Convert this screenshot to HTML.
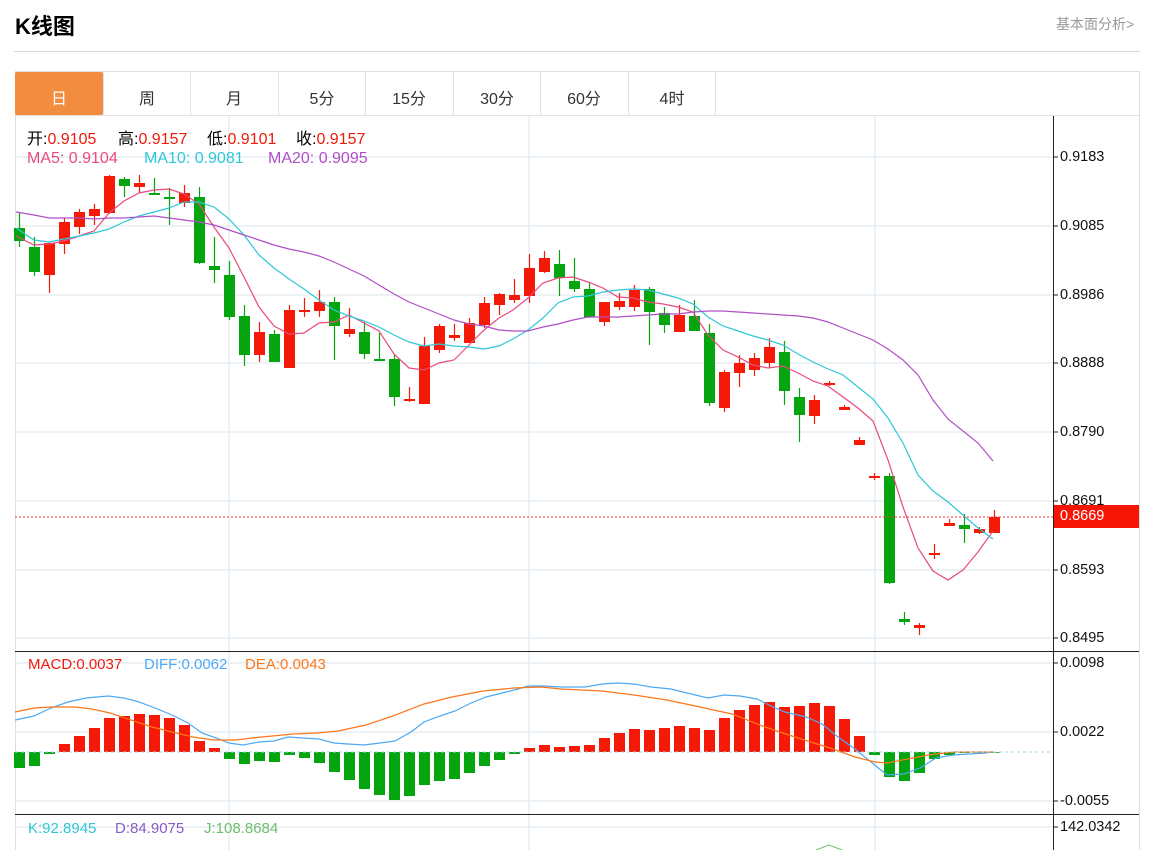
<!DOCTYPE html>
<html><head><meta charset="utf-8"><style>
body{margin:0;width:1160px;height:850px;background:#fff;overflow:hidden;font-family:"Liberation Sans","Noto Sans CJK SC",sans-serif;position:relative}
.t{position:absolute;white-space:nowrap}
</style></head><body>
<div class="t" style="left:15px;top:9px;font-size:22px;font-weight:bold;color:#000">K线图</div>
<div class="t" style="left:1056px;top:14px;font-size:14px;color:#999">基本面分析&gt;</div>
<div style="position:absolute;left:14px;top:51px;width:1126px;height:1px;background:#d6d6d6"></div>
<svg width="1160" height="850" style="position:absolute;left:0;top:0" id="s">
<rect x="15.5" y="71.5" width="1124" height="790" fill="none" stroke="#dedede"/>
<rect x="15" y="72" width="88" height="43" fill="#F28C3F" rx="2"/>
<g stroke="#e2e2e2"><line x1="103.5" y1="72" x2="103.5" y2="115"/><line x1="190.5" y1="72" x2="190.5" y2="115"/><line x1="278.5" y1="72" x2="278.5" y2="115"/><line x1="365.5" y1="72" x2="365.5" y2="115"/><line x1="453.5" y1="72" x2="453.5" y2="115"/><line x1="540.5" y1="72" x2="540.5" y2="115"/><line x1="628.5" y1="72" x2="628.5" y2="115"/><line x1="715.5" y1="72" x2="715.5" y2="115"/><line x1="15" y1="115.5" x2="1139" y2="115.5"/></g>
<g stroke="#e6edf3" stroke-width="1.5">
<line x1="15" y1="157" x2="1053" y2="157"/><line x1="15" y1="226" x2="1053" y2="226"/><line x1="15" y1="295" x2="1053" y2="295"/><line x1="15" y1="363" x2="1053" y2="363"/><line x1="15" y1="432" x2="1053" y2="432"/><line x1="15" y1="501" x2="1053" y2="501"/><line x1="15" y1="570" x2="1053" y2="570"/><line x1="15" y1="638" x2="1053" y2="638"/>
<line x1="15" y1="663" x2="1053" y2="663"/><line x1="15" y1="732" x2="1053" y2="732"/><line x1="15" y1="801" x2="1053" y2="801"/><line x1="15" y1="827" x2="1053" y2="827"/>
<line x1="229" y1="116" x2="229" y2="850"/><line x1="529" y1="116" x2="529" y2="850"/><line x1="875" y1="116" x2="875" y2="850"/>
</g>
<g id="c"></g>
<line x1="15" y1="517" x2="1053" y2="517" stroke="#f33" stroke-dasharray="2,2"/>
<line x1="15" y1="752" x2="1053" y2="752" stroke="#9fd3ee" stroke-dasharray="3,3"/>
<g stroke="#222"><line x1="15" y1="651.5" x2="1139" y2="651.5"/><line x1="15" y1="814.5" x2="1139" y2="814.5"/><line x1="1053.5" y1="116" x2="1053.5" y2="850"/>
<line x1="1053" y1="157" x2="1058" y2="157"/><line x1="1053" y1="226" x2="1058" y2="226"/><line x1="1053" y1="295" x2="1058" y2="295"/><line x1="1053" y1="363" x2="1058" y2="363"/><line x1="1053" y1="432" x2="1058" y2="432"/><line x1="1053" y1="501" x2="1058" y2="501"/><line x1="1053" y1="570" x2="1058" y2="570"/><line x1="1053" y1="638" x2="1058" y2="638"/><line x1="1053" y1="663" x2="1058" y2="663"/><line x1="1053" y1="732" x2="1058" y2="732"/><line x1="1053" y1="801" x2="1058" y2="801"/><line x1="1053" y1="827" x2="1058" y2="827"/></g>
<rect x="1054" y="505" width="85" height="23" fill="#f51505"/>
<polyline points="816,850 829,845 842,850" fill="none" stroke="#6dbf6d"/>
</svg>
<div class="t" style="left:59px;top:85px;font-size:16px;color:#fff;transform:translateX(-50%)">日</div>
<div class="t" style="left:147px;top:85px;font-size:16px;color:#333;transform:translateX(-50%)">周</div>
<div class="t" style="left:234px;top:85px;font-size:16px;color:#333;transform:translateX(-50%)">月</div>
<div class="t" style="left:322px;top:85px;font-size:16px;color:#333;transform:translateX(-50%)">5分</div>
<div class="t" style="left:409px;top:85px;font-size:16px;color:#333;transform:translateX(-50%)">15分</div>
<div class="t" style="left:497px;top:85px;font-size:16px;color:#333;transform:translateX(-50%)">30分</div>
<div class="t" style="left:584px;top:85px;font-size:16px;color:#333;transform:translateX(-50%)">60分</div>
<div class="t" style="left:672px;top:85px;font-size:16px;color:#333;transform:translateX(-50%)">4时</div>
<div style="position:absolute;left:0;top:125px;font-size:16px;color:#000">
<div class="t" style="left:27px">开:<span style="color:#f01a0a">0.9105</span></div>
<div class="t" style="left:118px">高:<span style="color:#f01a0a">0.9157</span></div>
<div class="t" style="left:207px">低:<span style="color:#f01a0a">0.9101</span></div>
<div class="t" style="left:296px">收:<span style="color:#f01a0a">0.9157</span></div></div>
<div style="position:absolute;left:0;top:150px;font-size:16px">
<div class="t" style="left:27px;color:#E84A7F">MA5: 0.9104</div>
<div class="t" style="left:144px;color:#2EC7D8">MA10: 0.9081</div>
<div class="t" style="left:268px;color:#B04FC6">MA20: 0.9095</div></div>
<div style="position:absolute;left:0;top:656px;font-size:15px">
<div class="t" style="left:28px;color:#f01a0a">MACD:0.0037</div>
<div class="t" style="left:144px;color:#4DA9F5">DIFF:0.0062</div>
<div class="t" style="left:245px;color:#FF7518">DEA:0.0043</div></div>
<div style="position:absolute;left:0;top:820px;font-size:15px">
<div class="t" style="left:28px;color:#2EC7D8">K:92.8945</div>
<div class="t" style="left:115px;color:#8a5cc8">D:84.9075</div>
<div class="t" style="left:204px;color:#6dbf6d">J:108.8684</div></div>
<div style="position:absolute;left:1060px;top:1px;font-size:14.5px;color:#111">
<div class="t" style="top:148px">0.9183</div><div class="t" style="top:217px">0.9085</div><div class="t" style="top:286px">0.8986</div><div class="t" style="top:354px">0.8888</div><div class="t" style="top:423px">0.8790</div><div class="t" style="top:492px">0.8691</div><div class="t" style="top:507px;color:#fff">0.8669</div><div class="t" style="top:561px">0.8593</div><div class="t" style="top:629px">0.8495</div>
<div class="t" style="top:654px">0.0098</div><div class="t" style="top:723px">0.0022</div><div class="t" style="top:792px">-0.0055</div><div class="t" style="top:818px">142.0342</div></div>
<script>
var C=[[228,241,213,247,0],[247,272,237,276,0],[243,275,242,293,1],[222,244,218,254,1],[212,227,209,234,1],[209,216,204,225,1],[176,213,175,214,1],[179,186,177,197,0],[183,187,175,193,1],[193,194,178,194,0],[197,199,188,225,0],[193,203,185,207,1],[197,263,187,264,0],[266,270,237,283,0],[275,317,261,320,0],[316,355,305,366,0],[332,355,322,362,1],[334,362,330,362,0],[310,368,305,368,1],[310,312,298,317,1],[302,311,290,317,1],[302,326,297,360,0],[329,334,308,337,1],[332,354,322,359,0],[359,360,333,360,0],[359,397,355,406,0],[399,400,387,402,1],[346,404,337,404,1],[326,350,324,353,1],[335,338,324,341,1],[323,343,318,343,1],[303,325,297,328,1],[294,305,293,315,1],[295,300,279,303,1],[268,296,254,303,1],[258,272,251,273,1],[264,278,250,296,0],[281,289,258,292,0],[289,317,282,318,0],[302,322,302,326,1],[301,307,293,310,1],[290,307,285,311,1],[289,312,287,345,0],[313,325,307,333,0],[315,332,305,332,1],[316,331,300,331,0],[333,403,324,406,0],[372,408,370,412,1],[363,373,355,387,1],[358,370,353,376,1],[347,363,338,368,1],[352,391,341,405,0],[397,415,388,442,0],[400,416,395,424,1],[383,384,381,386,1],[407,410,405,410,1],[440,445,437,445,1],[476,478,473,480,1],[476,583,473,584,0],[619,622,612,625,0],[625,628,623,635,1],[553,555,544,559,1],[523,526,519,526,1],[525,529,514,543,0],[529,533,527,534,1],[517,533,510,533,1]];
var M=[768,766,754,744,736,728,718,716,714,715,718,725,741,748,759,764,761,762,755,758,763,772,780,789,795,800,796,785,781,779,773,766,760,754,748,745,747,746,745,738,733,729,730,728,726,728,730,718,710,705,702,707,706,703,706,719,736,755,777,781,773,759,755,753,752.5,752];
var R='#f51a07',G='#04a50e',h='';
function X(i){return 19.5+15*i}
M.forEach(function(y,i){var x=X(i)-5.5,t=Math.min(y,752),b=Math.max(y,752);h+='<rect x="'+x+'" y="'+t+'" width="11" height="'+Math.max(b-t,0.8)+'" fill="'+(y<752?R:G)+'"/>';});
C.forEach(function(c,i){var x=X(i),col=c[4]?R:G;h+='<line x1="'+x+'" y1="'+c[2]+'" x2="'+x+'" y2="'+c[3]+'" stroke="'+col+'" stroke-width="1.2"/><rect x="'+(x-5.5)+'" y="'+c[0]+'" width="11" height="'+Math.max(c[1]-c[0],2)+'" fill="'+col+'"/>';});
function P(s,col){h+='<polyline points="'+s+'" fill="none" stroke="'+col+'" stroke-width="1.2"/>';}
P('16,236 34,245 49,244 64,241 79,236 94,231 109,213 124,201 139,193 154,190 169,189 184,194 199,204 214,227 229,248 244,277 259,307 274,326 289,334 304,333 319,323 334,322 349,315 364,323 379,331 394,354 409,368 424,370 439,363 454,360 469,345 484,330 499,318 513,310 528,298 543,283 558,278 573,277 588,282 603,288 618,297 633,298 648,302 663,304 678,307 693,312 708,335 723,350 738,357 753,365 768,368 783,366 798,373 813,381 828,386 843,397 858,408 873,421 888,460 903,507 918,548 933,571 948,580 963,570 978,552 993,531','#E84A7F');
P('16,228 34,240 49,242 64,239 79,236 94,233 109,229 124,222 139,216 154,212 169,208 184,202 199,202 214,207 229,219 244,235 259,255 274,268 289,279 304,289 319,300 334,310 349,316 364,321 379,327 394,335 409,342 424,346 439,344 454,346 469,347 484,349 499,346 513,339 528,330 543,318 558,303 573,297 588,296 603,292 618,290 633,289 648,290 663,294 678,298 693,304 708,317 723,326 738,331 753,336 768,340 783,345 798,354 813,362 828,369 843,375 858,387 873,399 888,418 903,443 918,475 933,491 948,502 963,515 978,528 993,539','#2EC7D8');
P('16,212 34,215 49,218 64,218 79,218 94,219 109,218 124,218 139,217 154,216 169,218 184,220 199,222 214,225 229,230 244,235 259,240 274,245 289,249 304,252 319,256 334,262 349,269 364,276 379,285 394,294 409,302 424,308 439,314 454,320 469,324 484,326 499,330 513,331 528,331 543,327 558,324 573,320 588,317 603,317 618,317 633,316 648,315 663,314 678,314 693,312 708,311 723,311 738,312 753,313 768,314 783,315 798,316 813,318 828,322 843,328 858,334 873,340 888,349 903,360 918,375 933,400 948,419 963,431 978,443 993,461','#B04FC6');
P('15,720 34,716 51,708 68,702 86,698 108,696 124,698 139,702 155,708 172,715 188,723 202,733 216,738 229,743 243,745 259,742 274,741 288,737 303,738 319,739 334,743 348,744 364,745 380,743 395,741 411,732 424,722 440,716 455,711 471,703 486,697 502,693 518,689 528,686 544,686 561,687 585,687 602,684 618,683 634,684 651,687 671,689 687,693 708,698 724,695 740,696 757,699 773,707 785,712 806,717 822,724 838,737 855,749 871,762 887,775 904,774 920,768 936,758 953,755 969,754 985,753 993,752','#4DA9F5');
P('15,712 34,708 51,707 75,707 92,709 110,713 131,720 152,727 172,732 193,737 214,740 235,740 262,737 293,734 317,733 338,731 366,725 390,717 424,704 452,697 483,691 514,688 541,687 561,689 602,691 634,695 667,700 700,707 732,714 765,727 798,738 830,748 855,757 875,762 887,763 908,759 928,755 953,752 993,752','#FF7518');
document.getElementById('c').innerHTML=h;
</script>
</body></html>
